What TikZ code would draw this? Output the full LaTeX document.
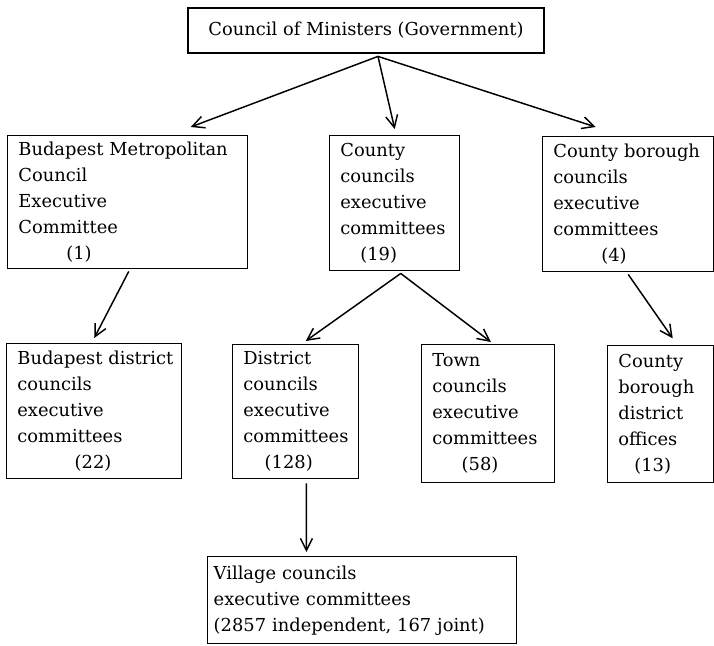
\documentclass[tikz,border=0pt]{standalone}
\usepackage{fontspec}
\setmainfont{DejaVu Serif}
\usetikzlibrary{arrows.meta, positioning}

\newcommand{\tally}[2]{\hspace*{#1}#2}

\begin{document}
\begin{tikzpicture}[
  x=0.75pt, y=-0.75pt,
  unit/.style={
    rectangle, draw, line width=1.1pt,
    anchor=north west, align=left,
    inner xsep=8pt, inner ysep=0pt,
    font=\fontsize{13.4}{19.5}\selectfont\hyphenpenalty 10000\relax
  },
  arr/.style={-{Straight Barb[length=9pt, width=9pt]}, line width=1.1pt}
]
  \useasboundingbox (0,0) rectangle (714,646);

  \node[unit, anchor=center, align=center,
    minimum width=267pt, minimum height=33.75pt] (gov) at (366,30.5)
    {Council of Ministers (Government)};

  % second level
  \node[unit, text width=164pt, minimum height=99.75pt] (bmc) at (7,135)
    {\mbox{Budapest Metropolitan}\\Council\\Executive\\Committee\\\tally{36pt}{(1)}};
  \node[unit, text width=81.5pt, minimum height=101.25pt] (cty) at (329,135)
    {County\\councils\\executive\\committees\\\tally{15pt}{(19)}};
  \node[unit, text width=112.25pt, minimum height=101.25pt] (cbc) at (542,136)
    {\mbox{County borough}\\councils\\executive\\committees\\\tally{36pt}{(4)}};

  % third level
  \node[unit, text width=115.25pt, minimum height=101.25pt] (bdc) at (6,343)
    {\mbox{Budapest district}\\councils\\executive\\committees\\\tally{43pt}{(22)}};
  \node[unit, text width=78.5pt, minimum height=100.5pt] (dcc) at (232,344)
    {District\\councils\\executive\\committees\\\tally{16pt}{(128)}};
  \node[unit, text width=83.75pt, minimum height=103.5pt] (tcc) at (421,344)
    {Town\\councils\\executive\\committees\\\tally{22pt}{(58)}};
  \node[unit, text width=63.5pt, minimum height=102.75pt] (cbd) at (607,345)
    {County\\borough\\district\\offices\\\tally{12pt}{(13)}};

  % villages
  \node[unit, inner xsep=4.5pt, text width=222.75pt, minimum height=65.25pt] (vil) at (207,556)
    {\mbox{Village councils}\\\mbox{executive committees}\\\mbox{(2857 independent, 167 joint)}};

  \coordinate (hub) at ([xshift=9pt, yshift=-2pt]gov.south);
  \draw[arr] (hub) -- ([xshift=47.25pt, yshift=6pt]bmc.north);
  \draw[arr] (hub) -- ([yshift=4.5pt]cty.north);
  \draw[arr] (hub) -- ([xshift=-24.4pt, yshift=6.75pt]cbc.north);

  \draw[arr] ([xshift=0.75pt, yshift=-1.5pt]bmc.south) -- ([yshift=3.75pt]bdc.north);
  \coordinate (fork) at ([xshift=4.5pt, yshift=-1.5pt]cty.south);
  \draw[arr] (fork) -- ([xshift=7.5pt, yshift=2.25pt]dcc.north);
  \draw[arr] (fork) -- ([xshift=2pt, yshift=1.5pt]tcc.north);
  \draw[arr] ([yshift=-1.5pt]cbc.south) -- ([xshift=9pt, yshift=5pt]cbd.north);
  \draw[arr] ([xshift=8pt, yshift=-3pt]dcc.south) -- ([xshift=-41.85pt, yshift=3pt]vil.north);
\end{tikzpicture}
\end{document}
